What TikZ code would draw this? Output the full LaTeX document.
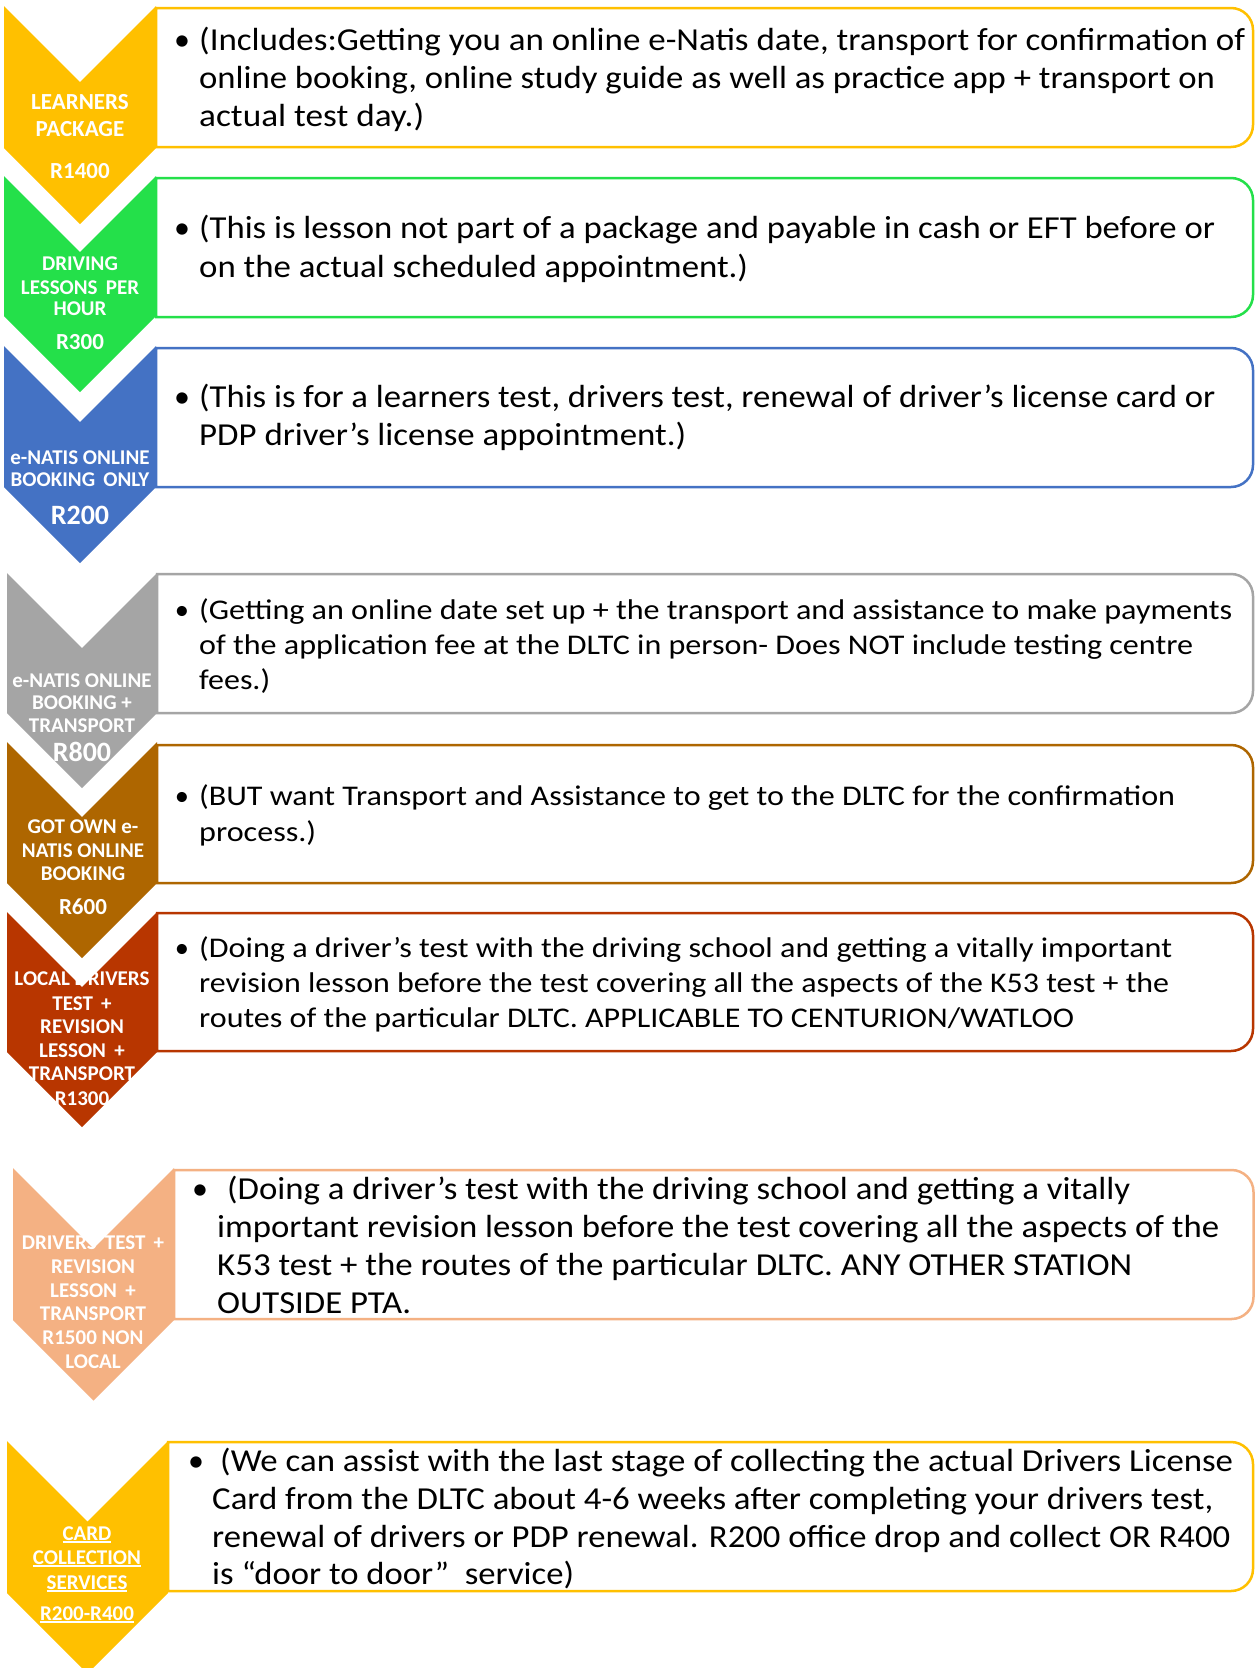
\documentclass[tikz,border=0pt]{standalone}
\usepackage{fontspec}
\setmainfont{Carlito}
\usepackage{graphicx}
\definecolor{cYel}{RGB}{255,192,0}
\definecolor{cGrn}{RGB}{36,224,74}
\definecolor{cBlu}{RGB}{68,114,196}
\definecolor{cGry}{RGB}{165,165,165}
\definecolor{cBrn}{RGB}{174,102,0}
\definecolor{cRed}{RGB}{184,54,0}
\definecolor{cSal}{RGB}{244,177,131}
\newsavebox\linebox
\newcommand\fitto[2]{\sbox\linebox{#2}\pgfmathsetmacro\fitsx{#1/\the\wd\linebox}\scalebox{\fitsx}[1]{\usebox\linebox}}
\newsavebox\ulbox
\newcommand\ulw[1]{\sbox\ulbox{#1}\usebox\ulbox\llap{\rule[-2.6pt]{\wd\ulbox}{1.5pt}}}
\tikzset{
  lab/.style={text=white, inner sep=0pt, anchor=base},
  body/.style={anchor=base west, inner sep=0pt, text=black},
  dot/.style={anchor=base, inner sep=0pt, text=black},
  boxline/.style={line width=2.5pt, fill=white},
}
% rounded-right box: colour xl yt xr yb
\newcommand\rbox[5]{\draw[boxline, draw=#1] (#2,#3) -- ({#4-22},#3) arc[start angle=-90,end angle=0,radius=22] -- (#4,{#5-22}) arc[start angle=0,end angle=90,radius=22] -- (#2,#5) -- cycle;}
% chevron: colour xl xr yt yb
\newcommand\chev[5]{\fill[#1] (#2,#4) -- ({(#2+#3)/2},{#4+(#3-#2)/2}) -- (#3,#4) -- (#3,#5) -- ({(#2+#3)/2},{#5+(#3-#2)/2}) -- (#2,#5) -- cycle;}
% label line: name x y size text
\newcommand\lab[5]{\node[lab, font=\fontsize{#4}{#4}\selectfont\bfseries] (#1) at (#2,#3) {#5};}
% body line: name x y size width text
\newcommand\bl[6]{\node[body, font=\fontsize{#4}{#4}\selectfont] (#1) at (#2,#3) {\fitto{#5}{#6}};}
\newcommand\bdot[4]{\node[dot, font=\fontsize{#4}{#4}\selectfont] (#1) at (#2,#3) {\textbullet};}
\begin{document}
\begin{tikzpicture}[x=1pt,y=-1pt]
\useasboundingbox (0,0) rectangle (1255,1668);
\clip (0,0) rectangle (1255,1668);
\fill[white] (0,0) rectangle (1255,1668);
% boxes
\rbox{cYel}{156}{8}{1253}{147}
\rbox{cGrn}{156}{178}{1253}{317}
\rbox{cBlu}{156}{348}{1253}{487}
\rbox{cGry}{157}{574}{1253}{713}
\rbox{cBrn}{157}{745}{1253}{883}
\rbox{cRed}{157}{913}{1253}{1051}
\rbox{cSal}{174}{1170}{1253.5}{1319}
\rbox{cYel}{168}{1442}{1253}{1591}
% chevrons
\chev{cYel}{4}{156}{6}{148}
\chev{cGrn}{4}{156}{176}{316}
\chev{cBlu}{4}{156}{346}{487}
\chev{cGry}{7}{157}{573}{713}
\chev{cBrn}{7}{157}{742}{883}
\chev{cRed}{7}{157}{912}{1052}
\chev{cSal}{13}{174}{1168}{1320}
\chev{cYel}{7}{168}{1441}{1593}
% chevron labels
\lab{c1a}{80}{109.5}{23}{LEARNERS}
\lab{c1b}{80}{136.5}{23}{PACKAGE}
\lab{c1c}{80}{178.5}{23}{R1400}
\lab{c2a}{80}{270}{21}{DRIVING}
\lab{c2b}{80}{294}{21}{LESSONS\, PER}
\lab{c2c}{80}{315}{21}{HOUR}
\lab{c2d}{80}{349.5}{23}{R300}
\lab{c3a}{80}{464}{21}{e-NATIS ONLINE}
\lab{c3b}{80}{486}{21}{BOOKING\, ONLY}
\lab{c3c}{80}{524}{28}{R200}
\lab{c4a}{82}{687}{21}{e-NATIS ONLINE}
\lab{c4b}{82}{709}{21}{BOOKING +}
\lab{c4c}{82}{732}{21}{TRANSPORT}
\lab{c4d}{82}{761}{28}{R800}
\lab{c5a}{83}{833}{21}{GOT OWN e-}
\lab{c5b}{83}{857}{21}{NATIS ONLINE}
\lab{c5c}{83}{880}{21}{BOOKING}
\lab{c5d}{83}{914.5}{23}{R600}
\lab{c6a}{82}{985}{21}{LOCAL DRIVERS}
\lab{c6b}{82}{1010}{21}{TEST\, +}
\lab{c6c}{82}{1033}{21}{REVISION}
\lab{c6d}{82}{1057}{21}{LESSON\, +}
\lab{c6e}{82}{1080}{21}{TRANSPORT}
\lab{c6f}{82}{1105}{21}{R1300}
\lab{c7a}{93}{1249.5}{21}{DRIVERS\, TEST\, +}
\lab{c7b}{93}{1273.5}{21}{REVISION}
\lab{c7c}{93}{1297.5}{21}{LESSON\, +}
\lab{c7d}{93}{1320.5}{21}{TRANSPORT}
\lab{c7e}{93}{1344.5}{21}{R1500 NON}
\lab{c7f}{93}{1368.5}{21}{LOCAL}
\lab{c8a}{87}{1540}{21}{\ulw{CARD}}
\lab{c8b}{87}{1564}{21}{\ulw{COLLECTION}}
\lab{c8c}{87}{1589}{21}{\ulw{SERVICES}}
\lab{c8d}{87}{1620}{21}{\ulw{R200-R400}}
% body texts
\bdot{d1}{182}{50}{32}
\bl{t1a}{199}{50}{32}{1046}{(Includes:Getting you an online e-Natis date, transport for confirmation of}
\bl{t1b}{199}{88}{32}{1016}{online booking, online study guide as well as practice app + transport on}
\bl{t1c}{199}{126}{32}{225}{actual test day.)}
\bdot{d2}{182}{238}{32}
\bl{t2a}{199}{238}{32}{1016}{(This is lesson not part of a package and payable in cash or EFT before or}
\bl{t2b}{199}{277}{32}{549}{on the actual scheduled appointment.)}
\bdot{d3}{182}{407}{32}
\bl{t3a}{199}{407}{32}{1016}{(This is for a learners test, drivers test, renewal of driver’s license card or}
\bl{t3b}{199}{445}{32}{487}{PDP driver’s license appointment.)}
\bdot{d4}{182}{619}{28.5}
\bl{t4a}{199}{619}{28.5}{1033}{(Getting an online date set up + the transport and assistance to make payments}
\bl{t4b}{199}{654}{28.5}{994}{of the application fee at the DLTC in person- Does NOT include testing centre}
\bl{t4c}{199}{689}{28.5}{71}{fees.)}
\bdot{d5}{182}{805}{28.5}
\bl{t5a}{199}{805}{28.5}{976}{(BUT want Transport and Assistance to get to the DLTC for the confirmation}
\bl{t5b}{199}{841}{28.5}{117}{process.)}
\bdot{d6}{182}{957}{28.5}
\bl{t6a}{199}{957}{28.5}{973}{(Doing a driver’s test with the driving school and getting a vitally important}
\bl{t6b}{199}{992}{28.5}{970}{revision lesson before the test covering all the aspects of the K53 test + the}
\bl{t6c}{199}{1027}{28.5}{875}{routes of the particular DLTC. APPLICABLE TO CENTURION/WATLOO}
\bdot{d7}{200}{1199}{32}
\bl{t7a}{227}{1199}{32}{903}{(Doing a driver’s test with the driving school and getting a vitally}
\bl{t7b}{217}{1237}{32}{1002}{important revision lesson before the test covering all the aspects of the}
\bl{t7c}{217}{1275}{32}{915}{K53 test + the routes of the particular DLTC. ANY OTHER STATION}
\bl{t7d}{217}{1313}{32}{194}{OUTSIDE PTA.}
\bdot{d8}{196}{1471}{32}
\bl{t8a}{220}{1471}{32}{1013}{(We can assist with the last stage of collecting the actual Drivers License}
\bl{t8b}{212}{1509}{32}{1001}{Card from the DLTC about 4-6 weeks after completing your drivers test,}
\bl{t8c}{212}{1547}{32}{1018}{renewal of drivers or PDP renewal. R200 office drop and collect OR R400}
\bl{t8d}{212}{1584}{32}{362}{is “door to door”\ \ service)}
\end{tikzpicture}
\end{document}
